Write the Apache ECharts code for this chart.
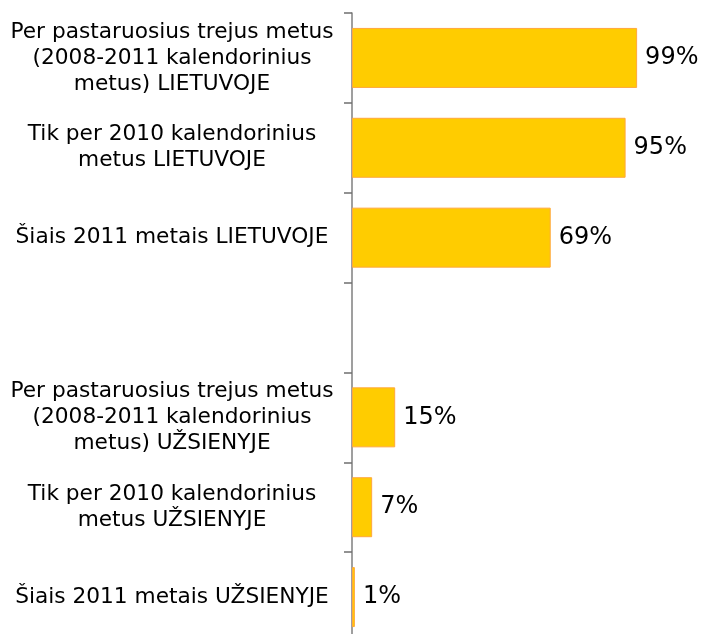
<!DOCTYPE html>
<html>
<head>
<meta charset="utf-8">
<script src="https://cdn.jsdelivr.net/npm/echarts@6/dist/echarts.min.js"></script>
<style>
  html, body { margin: 0; padding: 0; background: #fff; overflow: hidden; }
  /* chart is slightly taller than the window: the last band runs off the bottom edge */
  #chart { width: 701px; height: 642px; }
</style>
</head>
<body>
<div id="chart"></div>
<script>
// categories top to bottom (blank gap row in the middle)
var categories = [
  'Per pastaruosius trejus metus\n(2008-2011 kalendorinius\nmetus) LIETUVOJE',
  'Tik per 2010 kalendorinius\nmetus LIETUVOJE',
  'Šiais 2011 metais LIETUVOJE',
  '',
  'Per pastaruosius trejus metus\n(2008-2011 kalendorinius\nmetus) UŽSIENYJE',
  'Tik per 2010 kalendorinius\nmetus UŽSIENYJE',
  'Šiais 2011 metais UŽSIENYJE'
];
var values = [99, 95, 69, '-', 15, 7, 1];

var mychart = echarts.init(document.getElementById('chart'));

var option = {
  animation: false,
  textStyle: {
    fontFamily: 'DejaVu Sans'
  },
  grid: {
    left: 352,
    right: 61,
    top: 13,
    bottom: 0,
    containLabel: false
  },
  xAxis: {
    type: 'value',
    min: 0,
    max: 100,
    show: false
  },
  yAxis: {
    type: 'category',
    inverse: true,
    data: categories,
    axisLine: {
      show: true,
      lineStyle: { color: '#7f7f7f', width: 1.5 }
    },
    axisTick: {
      show: true,
      length: 8,
      lineStyle: { color: '#6f6f6f', width: 1.5 }
    },
    axisLabel: {
      color: '#000',
      fontSize: 21.7,
      lineHeight: 26,
      align: 'center',
      margin: 180
    }
  },
  series: [
    {
      type: 'bar',
      data: values,
      barWidth: 60,
      itemStyle: {
        color: '#FFCC00',
        borderColor: '#FFA83C',
        borderWidth: 1
      },
      label: {
        show: true,
        position: 'right',
        distance: 8,
        color: '#000',
        fontSize: 24,
        formatter: '{c}%'
      }
    }
  ]
};

mychart.setOption(option);
</script>
</body>
</html>
